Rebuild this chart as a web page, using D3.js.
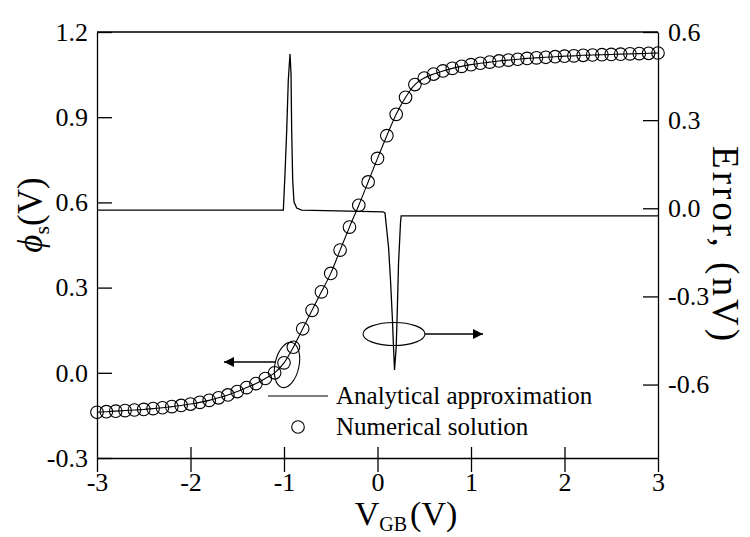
<!DOCTYPE html>
<html>
<head>
<meta charset="utf-8">
<script src="https://cdn.jsdelivr.net/npm/d3@7"></script>
<style>
  body { margin: 0; background: #fff; }
  svg { font-family: "Liberation Serif", "Times New Roman", serif; }
  .axis text { font-family: "Liberation Serif", "Times New Roman", serif; font-size: 26px; fill: #000; }
  .axis path, .axis line { stroke: #000; stroke-width: 1.3; }
</style>
</head>
<body>
<script>
// gate voltage grid of the numerical solution (V)
var vgb = d3.range(61).map(function(i) { return +(-3 + i * 0.1).toFixed(1); });

// surface potential phi_s (V)
var phiS = [-0.139, -0.137, -0.135, -0.133, -0.131, -0.129, -0.126, -0.123, -0.119, -0.115,
            -0.110, -0.104, -0.097, -0.088, -0.078, -0.066, -0.052, -0.038, -0.020, 0.000,
            0.035, 0.090, 0.155, 0.220, 0.285, 0.350, 0.432, 0.513, 0.590, 0.672,
            0.755, 0.835, 0.910, 0.970, 1.015, 1.038, 1.052, 1.063, 1.072, 1.079,
            1.085, 1.090, 1.094, 1.098, 1.101, 1.104, 1.107, 1.109, 1.111, 1.113,
            1.115, 1.116, 1.118, 1.119, 1.120, 1.121, 1.122, 1.123, 1.124, 1.125, 1.126];

// error of the analytical approximation (nV)
var errV = [-3, -1.007, -0.989, -0.971, -0.954, -0.936, -0.925, -0.918, -0.907, -0.893, -0.864, -0.811,
            0.059, 0.080, 0.118, 0.139, 0.160, 0.171, 0.182, 0.200, 0.211, 0.225, 0.246, 0.253, 3];
var errE = [-0.006, -0.006, 0.120, 0.266, 0.436, 0.525, 0.460, 0.266, 0.096, 0.021, 0.001, -0.006,
            -0.012, -0.016, -0.132, -0.244, -0.380, -0.472, -0.550, -0.472, -0.356, -0.186, -0.050, -0.026, -0.026];

var xTicks = [-3, -2, -1, 0, 1, 2, 3];
var leftTicks = [1.2, 0.9, 0.6, 0.3, 0.0, -0.3];
var rightTicks = [0.6, 0.3, 0.0, -0.3, -0.6];

var width = 750, height = 537;
var margin = {top: 32, right: 92, bottom: 79, left: 97};

var svg = d3.select("body").append("svg")
    .attr("width", width)
    .attr("height", height);

var x = d3.scaleLinear().domain([-3, 3]).range([margin.left, width - margin.right]);
var yL = d3.scaleLinear().domain([-0.3, 1.2]).range([height - margin.bottom, margin.top]);
var yR = d3.scaleLinear().domain([-0.85, 0.6]).range([height - margin.bottom, margin.top]);

var fmt = function(d) { return d.toFixed(1); };

// frame top
svg.append("line")
    .attr("x1", x(-3)).attr("x2", x(3))
    .attr("y1", margin.top).attr("y2", margin.top)
    .attr("stroke", "#000").attr("stroke-width", 1.3);

// bottom axis: ticks cross the axis line
svg.append("g")
    .attr("class", "axis")
    .attr("transform", "translate(0," + yL(-0.3) + ")")
    .call(d3.axisBottom(x).tickValues(xTicks).tickSize(14).tickSizeOuter(0).tickPadding(1)
        .tickFormat(function(d) { return String(d); }));
svg.append("g")
    .attr("class", "axis")
    .attr("transform", "translate(0," + yL(-0.3) + ")")
    .call(d3.axisBottom(x).tickValues(xTicks.slice(1, -1)).tickSize(-11).tickSizeOuter(0).tickFormat(""))
    .select(".domain").remove();

svg.append("g")
    .attr("class", "axis")
    .attr("transform", "translate(" + margin.left + ",0)")
    .call(d3.axisLeft(yL).tickValues(leftTicks).tickSize(-15).tickSizeOuter(0).tickPadding(9)
        .tickFormat(fmt));

svg.append("g")
    .attr("class", "axis")
    .attr("transform", "translate(" + (width - margin.right) + ",0)")
    .call(d3.axisRight(yR).tickValues(rightTicks).tickSize(-15).tickSizeOuter(0).tickPadding(10)
        .tickFormat(fmt));

// error curve (right axis)
var errData = errV.map(function(v, i) { return [v, errE[i]]; });
svg.append("path")
    .datum(errData)
    .attr("fill", "none")
    .attr("stroke", "#000")
    .attr("stroke-width", 1.3)
    .attr("d", d3.line().x(function(d) { return x(d[0]); }).y(function(d) { return yR(d[1]); }));

// analytical approximation line
var phiData = vgb.map(function(v, i) { return [v, phiS[i]]; });
svg.append("path")
    .datum(phiData)
    .attr("fill", "none")
    .attr("stroke", "#000")
    .attr("stroke-width", 1.1)
    .attr("d", d3.line().curve(d3.curveMonotoneX)
        .x(function(d) { return x(d[0]); }).y(function(d) { return yL(d[1]); }));

// numerical solution markers
svg.selectAll(".pt")
    .data(phiData)
    .enter().append("circle")
    .attr("class", "pt")
    .attr("cx", function(d) { return x(d[0]); })
    .attr("cy", function(d) { return yL(d[1]); })
    .attr("r", 6.3)
    .attr("fill", "none")
    .attr("stroke", "#000")
    .attr("stroke-width", 1.1);

// arrow head marker
svg.append("defs").append("marker")
    .attr("id", "head")
    .attr("viewBox", "0 0 10 10")
    .attr("refX", 10).attr("refY", 5)
    .attr("markerWidth", 20).attr("markerHeight", 10)
    .attr("markerUnits", "userSpaceOnUse")
    .attr("orient", "auto")
    .append("path").attr("d", "M0,0 L10,5 L0,10 Z").attr("fill", "#000");

// ellipse + arrow pointing to left axis
svg.append("ellipse")
    .attr("transform", "translate(287,365) rotate(12)")
    .attr("rx", 12).attr("ry", 23)
    .attr("fill", "none").attr("stroke", "#000").attr("stroke-width", 1.1);
svg.append("line")
    .attr("x1", 276).attr("y1", 362).attr("x2", 224).attr("y2", 362)
    .attr("stroke", "#000").attr("stroke-width", 1.3)
    .attr("marker-end", "url(#head)");

// ellipse + arrow pointing to right axis
svg.append("ellipse")
    .attr("cx", 394).attr("cy", 334)
    .attr("rx", 31).attr("ry", 11.5)
    .attr("fill", "none").attr("stroke", "#000").attr("stroke-width", 1.1);
svg.append("line")
    .attr("x1", 425).attr("y1", 334).attr("x2", 483).attr("y2", 334)
    .attr("stroke", "#000").attr("stroke-width", 1.3)
    .attr("marker-end", "url(#head)");

// legend
var legend = svg.append("g").attr("font-size", 25);
legend.append("line")
    .attr("x1", 268).attr("x2", 328).attr("y1", 396).attr("y2", 396)
    .attr("stroke", "#000").attr("stroke-width", 1.1);
legend.append("text").attr("x", 336).attr("y", 404).text("Analytical approximation");
legend.append("circle")
    .attr("cx", 298).attr("cy", 427).attr("r", 6.3)
    .attr("fill", "none").attr("stroke", "#000").attr("stroke-width", 1.1);
legend.append("text").attr("x", 336).attr("y", 435).text("Numerical solution");

// axis titles
var yt = svg.append("text")
    .attr("transform", "translate(42,215) rotate(-90)")
    .attr("text-anchor", "middle")
    .attr("font-size", 35);
yt.append("tspan").attr("font-style", "italic").text("\u03d5");
yt.append("tspan").attr("font-size", 22).attr("dy", 7).text("s");
yt.append("tspan").attr("dy", -7).text("(V)");

svg.append("text")
    .attr("transform", "translate(713,245) rotate(90)")
    .attr("text-anchor", "middle")
    .attr("font-size", 37)
    .attr("letter-spacing", 3)
    .text("Error, (nV)");

var xt = svg.append("text")
    .attr("x", 406).attr("y", 525)
    .attr("text-anchor", "middle")
    .attr("font-size", 34);
xt.append("tspan").text("V");
xt.append("tspan").attr("font-size", 20).attr("dy", 6).text("GB");
xt.append("tspan").attr("dy", -6).attr("dx", 3).text("(V)");
</script>
</body>
</html>
